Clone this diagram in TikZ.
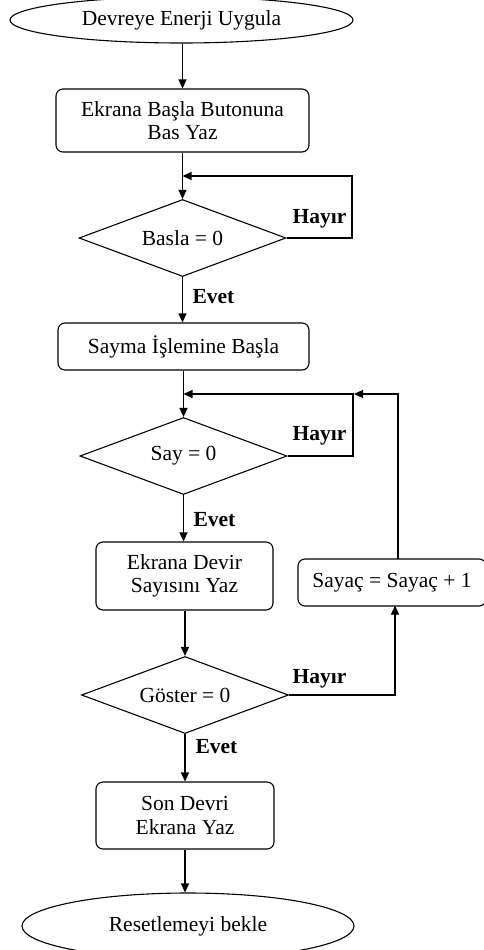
\documentclass[tikz,border=0pt]{standalone}
\usepackage{fontspec}
\setmainfont{Liberation Serif}
\usetikzlibrary{shapes.geometric,arrows.meta,calc}
\begin{document}
\begin{tikzpicture}[x=1pt,y=-1pt,
  line width=1.1pt,
  every node/.style={font=\fontsize{21.5}{23.5}\selectfont},
  term/.style={draw, ellipse, inner sep=0pt},
  proc/.style={draw, rectangle, rounded corners=7pt, inner sep=0pt, align=center},
  dec/.style={draw, diamond, inner sep=0pt, minimum width=207pt, minimum height=77pt},
  lbl/.style={font=\fontsize{21.5}{23}\selectfont\bfseries, inner sep=0pt},
  arr/.style={-{Triangle[length=9pt,width=8pt]}},
]
\useasboundingbox (0,0) rectangle (484,950);
\clip (0,0) rectangle (484,950);
\fill[white] (0,0) rectangle (484,950);

\node[term, minimum width=343pt, minimum height=46pt] (start) at (181.5,20) {Devreye Enerji Uygula};
\node[proc, minimum width=253pt, minimum height=63pt] (b1) at (182.5,120.5) {Ekrana Başla Butonuna\\Bas Yaz};
\node[dec, label=center:{Basla = 0}] (d1) at (182.5,238) {};
\node[proc, minimum width=251pt, minimum height=47pt] (b2) at (183.5,346.5) {Sayma İşlemine Başla};
\node[dec, label=center:{Say = 0}] (d2) at (183.5,456) {};
\node[proc, minimum width=177pt, minimum height=68pt] (b3) at (184.5,576) {Ekrana Devir\\Sayısını Yaz};
\node[proc, minimum width=188pt, minimum height=47pt] (sayac) at (392,582.5) {Sayaç = Sayaç + 1};
\node[dec, label=center:{Göster = 0}] (d3) at (185,695) {};
\node[proc, minimum width=178pt, minimum height=67pt] (b4) at (185,815.5) {Son Devri\\Ekrana Yaz};
\node[term, minimum width=332pt, minimum height=66pt] (end) at (188,926) {Resetlemeyi bekle};

\coordinate (j1) at (182.5,176);
\coordinate (j2) at (183.5,394);
\coordinate (j3) at (354,394);

\draw[arr] (b1.north |- start.south) -- (b1.north);
\draw[arr] (b1.south) -- (d1.north);
\draw[arr] (d1.east) -- (352,238) -- (352,176) -- (j1);
\draw[arr] (d1.south) -- (b2.north -| d1.south);
\draw[arr] (b2.south -| d2.north) -- (d2.north);
\draw[arr] (d2.east) -- (353,456) -- (353,394) -- (j2);
\draw[arr] (398,559) -- (398,394) -- (j3);
\draw[arr] (d2.south) -- (b3.north -| d2.south);
\draw[arr] (b3.south -| d3.north) -- (d3.north);
\draw[arr] (d3.east) -- (395,695) -- (395,605.5);
\draw[arr] (d3.south) -- (b4.north);
\draw[arr] (b4.south) -- (b4.south |- end.north);

\node[lbl, anchor=west] at (292,219) {Hayır};
\node[lbl, anchor=west] at (192,297) {Evet};
\node[lbl, anchor=west] at (292,436) {Hayır};
\node[lbl, anchor=west] at (193,520) {Evet};
\node[lbl, anchor=west] at (292,679) {Hayır};
\node[lbl, anchor=west] at (195,747) {Evet};
\end{tikzpicture}
\end{document}
